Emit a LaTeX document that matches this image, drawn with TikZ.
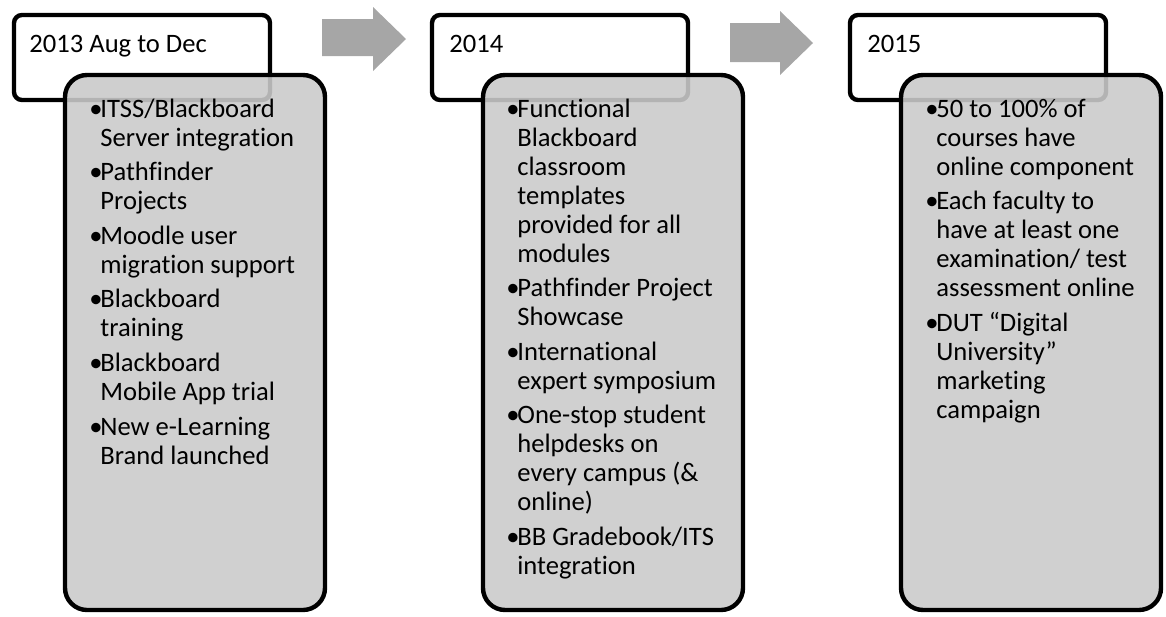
\documentclass[tikz,border=0pt]{standalone}
\usepackage{fontspec}
\setmainfont{Carlito}[Ligatures=NoCommon]
\definecolor{bodygray}{RGB}{202,202,202}
\definecolor{arrowgray}{RGB}{166,166,166}
\tikzset{
  headbox/.style={draw,line width=2.2pt,rounded corners=4pt,fill=white,
    minimum width=128pt,minimum height=42.5pt,inner sep=0pt,outer sep=0pt},
  bodybox/.style={draw,line width=2.2pt,rounded corners=11pt,fill=bodygray,
    fill opacity=0.89,draw opacity=1,minimum width=130pt,minimum height=267.5pt,
    inner sep=0pt,outer sep=0pt},
  yeartext/.style={anchor=base west,inner sep=0pt,font=\fontsize{13.3}{14.5}\selectfont},
  itemtext/.style={anchor=base west,inner sep=0pt,font=\fontsize{13.3}{14.5}\selectfont},
  blockarrow/.style={fill=arrowgray}
}
\newcommand{\bl}{\makebox[5.5pt][l]{\textbullet}}
\begin{document}
\begin{tikzpicture}[x=0.5pt,y=-0.5pt]
\useasboundingbox (0,0) rectangle (1166,616);
% arrows between the years
\fill[blockarrow] (322,19)--(373,19)--(373,7)--(406,39)--(373,71)--(373,56)--(322,56)--cycle;
\fill[blockarrow] (730,23)--(780,23)--(780,11)--(813,43)--(780,75)--(780,62)--(730,62)--cycle;
% 2013
\node[headbox] (h1) at (142,57.5) {};
\node[yeartext] (y1) at ([shift={(15,37)}]h1.north west) {2013 Aug to Dec};
\node[bodybox] (b1) at (195,342.5) {};
\node[itemtext] (l1) at ([shift={(24,42)}]b1.north west) {\begin{tabular}[t]{@{}l@{}l@{}}
\bl&ITSS/Blackboard\\
&Server integration\\[2.8pt]
\bl&Pathfinder\\
&Projects\\[2.8pt]
\bl&Moodle user\\
&migration support\\[2.8pt]
\bl&Blackboard\\
&training\\[2.8pt]
\bl&Blackboard\\
&Mobile App trial\\[2.8pt]
\bl&New e-Learning\\
&Brand launched
\end{tabular}};
% 2014
\node[headbox] (h2) at (560,57.5) {};
\node[yeartext] (y2) at ([shift={(17,37)}]h2.north west) {2014};
\node[bodybox] (b2) at (613,342.5) {};
\node[itemtext] (l2) at ([shift={(23,42)}]b2.north west) {\begin{tabular}[t]{@{}l@{}l@{}}
\bl&Functional\\
&Blackboard\\
&classroom\\
&templates\\
&provided for all\\
&modules\\[2.8pt]
\bl&Pathfinder Project\\
&Showcase\\[2.8pt]
\bl&International\\
&expert symposium\\[2.8pt]
\bl&One-stop student\\
&helpdesks on\\
&every campus (\&\\
&online)\\[2.8pt]
\bl&BB Gradebook/ITS\\
&integration
\end{tabular}};
% 2015
\node[headbox] (h3) at (978,57.5) {};
\node[yeartext] (y3) at ([shift={(17,37)}]h3.north west) {2015};
\node[bodybox] (b3) at (1031,342.5) {};
\node[itemtext] (l3) at ([shift={(24,42)}]b3.north west) {\begin{tabular}[t]{@{}l@{}l@{}}
\bl&50 to 100\% of\\
&courses have\\
&online component\\[2.8pt]
\bl&Each faculty to\\
&have at least one\\
&examination/ test\\
&assessment online\\[2.8pt]
\bl&DUT “Digital\\
&University”\\
&marketing\\
&campaign
\end{tabular}};
\end{tikzpicture}
\end{document}
